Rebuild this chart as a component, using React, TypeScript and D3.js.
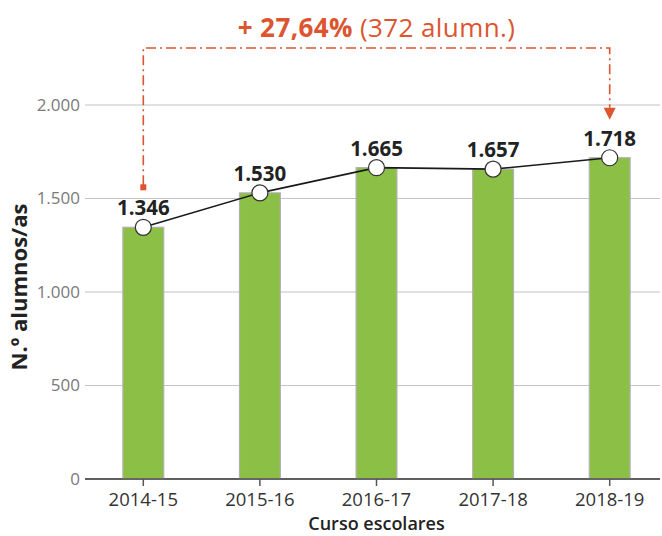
import React from "react";
import * as d3 from "d3";

const categories = ["2014-15", "2015-16", "2016-17", "2017-18", "2018-19"];
const values = [1346, 1530, 1665, 1657, 1718];
const yTicks = [0, 500, 1000, 1500, 2000];
const annotationBold = "+ 27,64%";
const annotationRest = " (372 alumn.)";

const W = 662;
const H = 536;
const FONT = "'Open Sans', 'Noto Sans', sans-serif";
const ORANGE = "#dc5530";

export default function App() {
  const x = d3.scaleBand<string>().domain(categories).range([85, 668]).paddingInner(0.65).paddingOuter(0.325);
  const y = d3.scaleLinear().domain([0, 2000]).range([479, 105]);
  const cx = (c: string) => (x(c) as number) + x.bandwidth() / 2;
  const fmt = (v: number) => d3.format(",")(v).replace(/,/g, ".");
  const line = d3
    .line<number>()
    .x((_, i) => cx(categories[i]))
    .y((v) => y(v));

  const x0 = cx(categories[0]);
  const x1 = cx(categories[categories.length - 1]);
  const topY = 48;
  const leftEnd = y(values[0]) - 38;
  const rightEnd = y(values[values.length - 1]) - 38;

  return (
    <svg width={W} height={H} style={{ position: "absolute", left: 0, top: 0, background: "#fff" }} fontFamily={FONT}>
      {/* grid */}
      {yTicks.map((t) => (
        <g key={t}>
          <line x1={85} x2={660} y1={y(t)} y2={y(t)} stroke={t === 0 ? "#555" : "#c4c4c4"} strokeWidth={t === 0 ? 1.5 : 1.2} />
          <text x={80} y={y(t)} dy="0.35em" textAnchor="end" fontSize={17} fill="#7a7a7a">
            {fmt(t)}
          </text>
        </g>
      ))}
      {/* bars */}
      {categories.map((c, i) => (
        <rect
          key={c}
          x={x(c)}
          y={y(values[i])}
          width={x.bandwidth()}
          height={y(0) - y(values[i])}
          fill="#8cbf45"
          stroke="#b0b0b0"
          strokeWidth={1.2}
        />
      ))}
      {/* x ticks & labels */}
      {categories.map((c) => (
        <g key={c}>
          <line x1={cx(c)} x2={cx(c)} y1={479} y2={486} stroke="#555" strokeWidth={1.5} />
          <text x={cx(c)} y={506} textAnchor="middle" fontSize={18.5} fill="#333">
            {c}
          </text>
        </g>
      ))}
      <line x1={85} x2={660} y1={479} y2={479} stroke="#555" strokeWidth={1.5} />
      {/* line */}
      <path d={line(values) || ""} fill="none" stroke="#1a1a1a" strokeWidth={1.6} />
      {categories.map((c, i) => (
        <g key={c}>
          <circle cx={cx(c)} cy={y(values[i])} r={8} fill="#fff" stroke="#333" strokeWidth={1.2} />
          <text x={cx(c)} y={y(values[i]) - 12} textAnchor="middle" fontSize={20.5} fontWeight={700} fill="#222">
            {fmt(values[i])}
          </text>
        </g>
      ))}
      {/* annotation */}
      <path
        d={`M${x0},${leftEnd - 4} L${x0},${topY} L${x1},${topY} L${x1},${rightEnd - 12}`}
        fill="none"
        stroke={ORANGE}
        strokeWidth={1.6}
        strokeDasharray="10,4,2,4"
      />
      <rect x={x0 - 3} y={leftEnd - 5} width={6} height={6} fill={ORANGE} />
      <path d={`M${x1 - 6},${rightEnd - 12} L${x1 + 6},${rightEnd - 12} L${x1},${rightEnd} Z`} fill={ORANGE} />
      <text x={(x0 + x1) / 2} y={37} textAnchor="middle" fontSize={26} fill={ORANGE} letterSpacing={0.4}>
        <tspan fontWeight={700}>{annotationBold}</tspan>
        <tspan>{annotationRest}</tspan>
      </text>
      {/* axis titles */}
      <text x={(x0 + x1) / 2} y={530} textAnchor="middle" fontSize={18} fontWeight={600} fill="#222">
        Curso escolares
      </text>
      <text transform={`translate(27,287) rotate(-90)`} textAnchor="middle" fontSize={22} fontWeight={700} fill="#222">
        N.º alumnos/as
      </text>
    </svg>
  );
}
